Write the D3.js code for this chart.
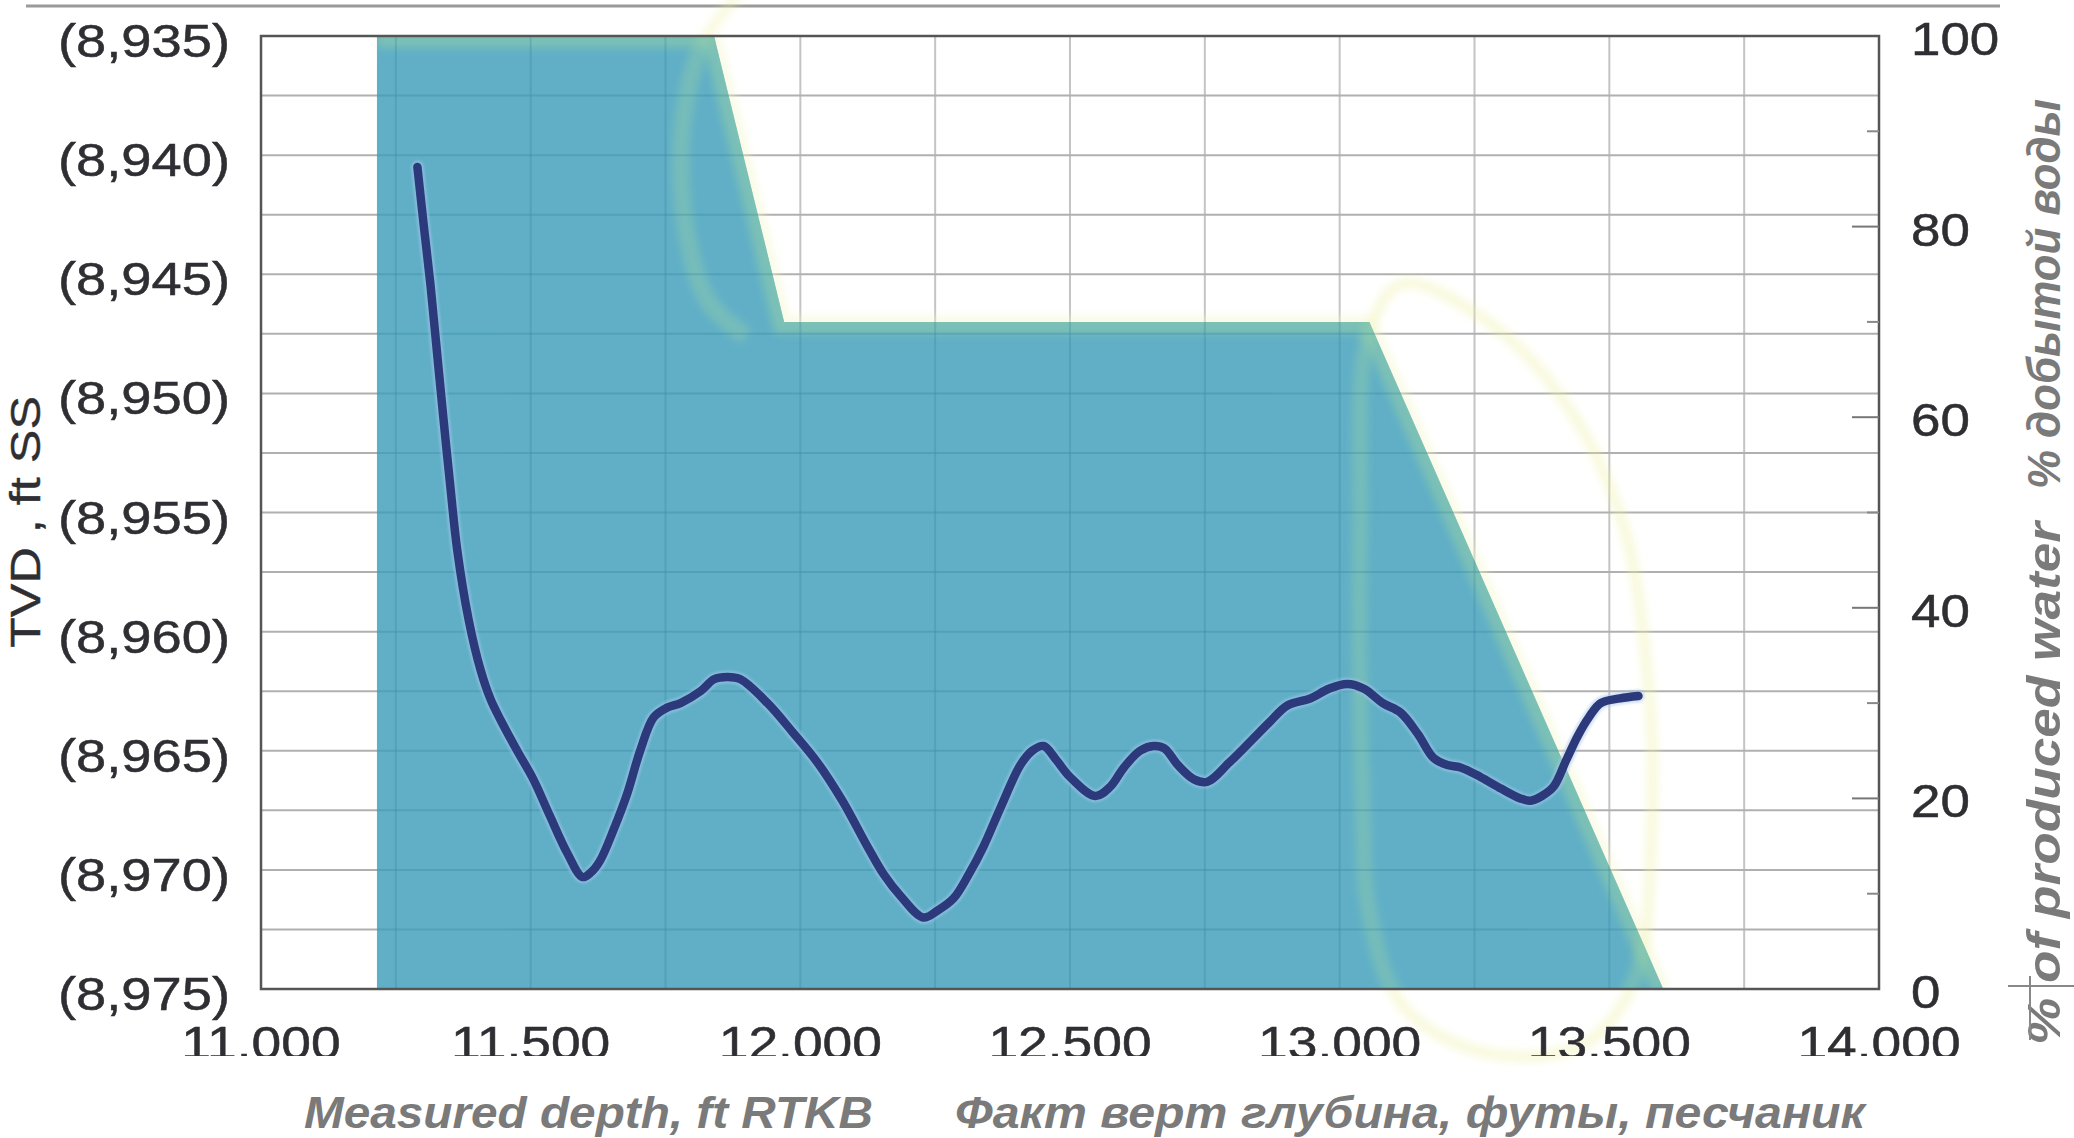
<!DOCTYPE html>
<html><head><meta charset="utf-8">
<script src="https://cdn.jsdelivr.net/npm/d3@7"></script>
<style>html,body{margin:0;padding:0;background:#fff;overflow:hidden} svg{display:block}</style>
</head><body><svg id="chart" width="2074" height="1138"></svg>
<script>
// ---------- data ----------
const mdTicks = [11000, 11500, 12000, 12500, 13000, 13500, 14000];
const mdTickLabels = ["11.000", "11.500", "12.000", "12.500", "13.000", "13.500", "14.000"];
const tvdTicks = [8935, 8940, 8945, 8950, 8955, 8960, 8965, 8970, 8975];
const tvdTickLabels = ["(8,935)", "(8,940)", "(8,945)", "(8,950)", "(8,955)", "(8,960)", "(8,965)", "(8,970)", "(8,975)"];
const waterTicks = [0, 20, 40, 60, 80, 100];
const waterTickLabels = ["0", "20", "40", "60", "80", "100"];
const waterMinorTicks = [10, 30, 50, 70, 90];
const mdGrid = [11250, 11500, 11750, 12000, 12250, 12500, 12750, 13000, 13250, 13500, 13750];
const tvdGrid = [8937.5, 8940, 8942.5, 8945, 8947.5, 8950, 8952.5, 8955, 8957.5, 8960, 8962.5, 8965, 8967.5, 8970, 8972.5];

// well trajectory: measured depth (ft) vs TVD (ft SS)
const trajMD = [11290, 11302, 11314, 11326, 11338, 11351, 11364, 11385, 11407, 11425, 11444, 11475, 11505, 11535, 11568, 11596,
  11612, 11629, 11654, 11679, 11703, 11728, 11752, 11778, 11815, 11840, 11865, 11889, 11939, 11985, 12032, 12078, 12124, 12155,
  12186, 12228, 12255, 12284, 12312, 12340, 12371, 12408, 12430, 12451, 12475, 12500, 12547, 12575, 12600, 12630, 12655, 12675,
  12700, 12730, 12755, 12795, 12835, 12870, 12903, 12946, 12980, 13014, 13045, 13080, 13113, 13145, 13174, 13200, 13224, 13261,
  13300, 13335, 13354, 13375, 13397, 13420, 13441, 13462, 13484, 13520, 13554];
const trajTVD = [8940.5, 8943.0, 8945.4, 8948.2, 8951.0, 8953.9, 8956.6, 8959.5, 8961.6, 8962.8, 8963.7, 8965.0, 8966.2, 8967.7, 8969.3, 8970.3,
  8970.1, 8969.6, 8968.3, 8966.8, 8965.0, 8963.6, 8963.2, 8963.0, 8962.5, 8962.0, 8961.9, 8962.0, 8963.0, 8964.2, 8965.5, 8967.1, 8969.0, 8970.2,
  8971.1, 8972.0, 8971.7, 8971.2, 8970.2, 8969.0, 8967.4, 8965.6, 8965.0, 8964.8, 8965.4, 8966.1, 8966.9, 8966.5, 8965.7, 8965.0, 8964.8, 8964.9,
  8965.6, 8966.2, 8966.3, 8965.5, 8964.6, 8963.8, 8963.1, 8962.8, 8962.4, 8962.2, 8962.4, 8963.0, 8963.4, 8964.3, 8965.3, 8965.6, 8965.7, 8966.1,
  8966.6, 8967.0, 8967.1, 8966.9, 8966.5, 8965.4, 8964.4, 8963.6, 8963.0, 8962.8, 8962.7];

// produced water (%) vs measured depth
const waterMD = [11215, 11215, 11840, 11970, 13055, 13600];
const waterPct = [0, 100, 100, 70, 70, 0];

// faint highlighter marks on the scanned original (depth, %)
const hlRightMD = [13042, 13038, 13055, 13116, 13263, 13411, 13521, 13571, 13578, 13547, 13449, 13263, 13116, 13055];
const hlRightPct = [20.5, 48.3, 69.0, 74.0, 70.5, 62.1, 49.6, 32.9, 16.4, 1.0, -5.9, -6.6, -1.7, 8.0];
const hlLeftMD = [11902, 11822, 11783, 11787, 11830, 11900];
const hlLeftPct = [105.4, 99.5, 91.3, 80.1, 72.1, 68.5];

// ---------- layout ----------
const W = 2074, H = 1138;
const L = 261, R = 1879, T = 36, B = 989;
const svg = d3.select("#chart");
const x = d3.scaleLinear().domain([11000, 14000]).range([L, R]);
const yL = d3.scaleLinear().domain([8935, 8975]).range([T, B]);
const yR = d3.scaleLinear().domain([0, 100]).range([B, T]);

const defs = svg.append("defs");
defs.append("clipPath").attr("id", "plotClip").append("rect").attr("x", L).attr("y", T).attr("width", R - L).attr("height", B - T);
defs.append("clipPath").attr("id", "xlabClip").append("rect").attr("x", 0).attr("y", 0).attr("width", W).attr("height", 1056);
const blur = defs.append("filter").attr("id", "soft").attr("x", "-20%").attr("y", "-20%").attr("width", "140%").attr("height", "140%");
blur.append("feGaussianBlur").attr("stdDeviation", 4);
const blur2 = defs.append("filter").attr("id", "soft2");
blur2.append("feGaussianBlur").attr("stdDeviation", 0.8);

const waterData = waterMD.map((d, i) => ({md: d, p: waterPct[i]}));
const areaGen = d3.area().x(d => x(d.md)).y0(yR(0)).y1(d => yR(d.p));
const topGen = d3.line().x(d => x(d.md)).y(d => yR(d.p));
defs.append("clipPath").attr("id", "fillClip").append("path").attr("d", areaGen(waterData));

// top decorative rule of the page
svg.append("line").attr("x1", 26).attr("x2", 2000).attr("y1", 6).attr("y2", 6)
  .attr("stroke", "#9a9a9a").attr("stroke-width", 3);

// gridlines
const grid = svg.append("g");
grid.selectAll("line.v").data(mdGrid).join("line").attr("class", "v")
  .attr("x1", d => x(d)).attr("x2", d => x(d)).attr("y1", T).attr("y2", B)
  .attr("stroke", "#c4c4c4").attr("stroke-width", 2);
grid.selectAll("line.h").data(tvdGrid).join("line").attr("class", "h")
  .attr("x1", L).attr("x2", R).attr("y1", d => yL(d)).attr("y2", d => yL(d))
  .attr("stroke", "#b0b0b0").attr("stroke-width", 2);

// highlighter (faint yellow)
const hlLine = d3.line().curve(d3.curveCatmullRom.alpha(0.5));
const hlClosed = d3.line().curve(d3.curveCatmullRomClosed.alpha(0.5));
const hlR = hlRightMD.map((d, i) => [x(d), yR(hlRightPct[i])]);
const hlLpts = hlLeftMD.map((d, i) => [x(d), yR(hlLeftPct[i])]);
svg.append("path").attr("d", hlClosed(hlR))
  .attr("fill", "none").attr("stroke", "#eef0a0").attr("stroke-width", 10).attr("opacity", 0.4).attr("filter", "url(#soft)");
svg.append("path").attr("d", hlLine(hlLpts))
  .attr("fill", "none").attr("stroke", "#eef0a0").attr("stroke-width", 10).attr("opacity", 0.35).attr("filter", "url(#soft)");

// yellow glow just outside the edge of the water area
svg.append("path").attr("d", topGen(waterData.slice(1))).attr("fill", "none")
  .attr("stroke", "#f2f5c4").attr("stroke-width", 12).attr("opacity", 0.45).attr("filter", "url(#soft)")
  .attr("clip-path", "url(#plotClip)");
// produced water area
svg.append("path").attr("d", areaGen(waterData)).attr("fill", "#56aac3").attr("opacity", 0.94);
// green tint along inside edge + highlighter seen through the fill
const edgeG = svg.append("g").attr("clip-path", "url(#fillClip)");
edgeG.append("path").attr("d", topGen(waterData.slice(1))).attr("fill", "none")
  .attr("stroke", "#98d2a6").attr("stroke-width", 24).attr("opacity", 0.5).attr("filter", "url(#soft)");
edgeG.append("path").attr("d", hlClosed(hlR))
  .attr("fill", "none").attr("stroke", "#9fd6a4").attr("stroke-width", 16).attr("opacity", 0.35).attr("filter", "url(#soft)");
edgeG.append("path").attr("d", hlLine(hlLpts))
  .attr("fill", "none").attr("stroke", "#9fd6a4").attr("stroke-width", 18).attr("opacity", 0.35).attr("filter", "url(#soft)");
// gridlines faintly visible through the fill
edgeG.selectAll("line.v").data(mdGrid).join("line").attr("class", "v")
  .attr("x1", d => x(d)).attr("x2", d => x(d)).attr("y1", T).attr("y2", B)
  .attr("stroke", "#3d8aa0").attr("stroke-width", 2).attr("opacity", 0.3);
edgeG.selectAll("line.h").data(tvdGrid).join("line").attr("class", "h")
  .attr("x1", L).attr("x2", R).attr("y1", d => yL(d)).attr("y2", d => yL(d))
  .attr("stroke", "#3d8aa0").attr("stroke-width", 2).attr("opacity", 0.3);

// trajectory line
const traj = trajMD.map((d, i) => ({md: d, tvd: trajTVD[i]}));
const lineGen = d3.line().x(d => x(d.md)).y(d => yL(d.tvd)).curve(d3.curveCatmullRom.alpha(0.5));
svg.append("path").attr("d", lineGen(traj)).attr("fill", "none")
  .attr("stroke", "#a9c8ec").attr("stroke-width", 13).attr("stroke-linecap", "round").attr("stroke-linejoin", "round")
  .attr("opacity", 0.5).attr("filter", "url(#soft2)");
svg.append("path").attr("d", lineGen(traj)).attr("fill", "none")
  .attr("stroke", "#2c3a7c").attr("stroke-width", 8.5).attr("stroke-linecap", "round").attr("stroke-linejoin", "round");

// frame
svg.append("rect").attr("x", L).attr("y", T).attr("width", R - L).attr("height", B - T)
  .attr("fill", "none").attr("stroke", "#555").attr("stroke-width", 2.5);

// right axis inward ticks
svg.selectAll("line.rt").data(waterTicks.filter(d => d > 0 && d < 100)).join("line").attr("class", "rt")
  .attr("x1", R - 27).attr("x2", R).attr("y1", d => yR(d)).attr("y2", d => yR(d))
  .attr("stroke", "#777").attr("stroke-width", 2);
svg.selectAll("line.rtm").data(waterMinorTicks).join("line").attr("class", "rtm")
  .attr("x1", R - 12).attr("x2", R).attr("y1", d => yR(d)).attr("y2", d => yR(d))
  .attr("stroke", "#888").attr("stroke-width", 2);

// helper: stretch glyphs horizontally like the scanned Helvetica
const font = "'Liberation Sans', Arial, Helvetica, sans-serif";
function widen(sel, k) {
  sel.each(function () {
    const w = this.getComputedTextLength();
    d3.select(this).attr("textLength", w * k).attr("lengthAdjust", "spacingAndGlyphs");
  });
}

// left tick labels
const leftLab = svg.append("g").selectAll("text").data(tvdTicks).join("text")
  .attr("x", 230).attr("y", d => yL(d) + 21).attr("text-anchor", "end")
  .attr("font-family", font).attr("font-size", 46).attr("fill", "#2e2e33")
  .attr("stroke", "#2e2e33").attr("stroke-width", 0.5)
  .text((d, i) => tvdTickLabels[i]);
widen(leftLab, 1.18);

// right tick labels
const rightLab = svg.append("g").selectAll("text").data(waterTicks).join("text")
  .attr("x", 1911).attr("y", d => yR(d) + 19).attr("text-anchor", "start")
  .attr("font-family", font).attr("font-size", 46).attr("fill", "#2e2e33")
  .attr("stroke", "#2e2e33").attr("stroke-width", 0.5)
  .text((d, i) => waterTickLabels[i]);
widen(rightLab, 1.15);

// bottom tick labels (clipped like the scan)
const botLab = svg.append("g").attr("clip-path", "url(#xlabClip)").selectAll("text").data(mdTicks).join("text")
  .attr("x", d => x(d)).attr("y", 1059).attr("text-anchor", "middle")
  .attr("font-family", font).attr("font-size", 46).attr("fill", "#2e2e33")
  .attr("stroke", "#2e2e33").attr("stroke-width", 0.5)
  .text((d, i) => mdTickLabels[i]);
widen(botLab, 1.16);

// left axis title
const lt = svg.append("text").attr("transform", "translate(40,522) rotate(-90)").attr("text-anchor", "middle")
  .attr("font-family", font).attr("font-size", 42).attr("fill", "#2e2e33")
  .attr("stroke", "#2e2e33").attr("stroke-width", 0.4)
  .text("TVD , ft SS");
widen(lt, 1.2);

// bottom axis titles
const titleStyle = s => s.attr("font-family", font).attr("font-size", 45).attr("font-weight", "bold")
  .attr("font-style", "italic").attr("fill", "#7a7a7a").attr("lengthAdjust", "spacingAndGlyphs");
svg.append("text").attr("x", 304).attr("y", 1128).call(titleStyle).attr("textLength", 569)
  .text("Measured depth, ft RTKB");
svg.append("text").attr("x", 955).attr("y", 1128).call(titleStyle).attr("textLength", 910)
  .text("Факт верт глубина, футы, песчаник");

// right axis titles (rotated)
svg.append("text").attr("transform", "translate(2060,1045) rotate(-90)").call(titleStyle).attr("font-size", 47)
  .attr("textLength", 523).text("% of produced water");
svg.append("text").attr("transform", "translate(2060,489) rotate(-90)").call(titleStyle).attr("font-size", 47)
  .attr("textLength", 390).text("% добытой воды");

// small frame corner at lower right of the scan
svg.append("line").attr("x1", 2008).attr("x2", 2074).attr("y1", 986).attr("y2", 986).attr("stroke", "#888").attr("stroke-width", 2);
svg.append("line").attr("x1", 2030).attr("x2", 2030).attr("y1", 976).attr("y2", 1040).attr("stroke", "#888").attr("stroke-width", 2);
</script></body></html>
